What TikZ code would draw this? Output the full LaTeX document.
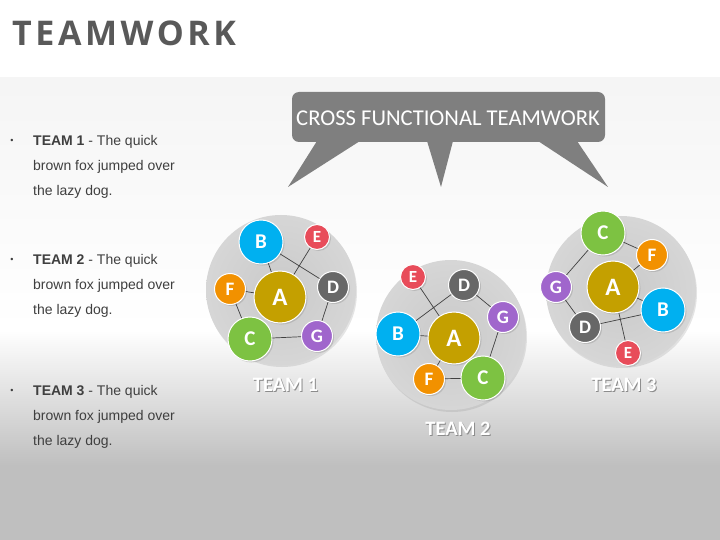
\documentclass[tikz,border=0pt]{standalone}
\usepackage{fontspec}
\setmainfont{Carlito}
\newfontfamily\arialfont{Liberation Sans}
\newfontfamily\titlefont[LetterSpace=10.5]{Open Sans}
\usetikzlibrary{shadows}

\definecolor{colA}{HTML}{C4A000}
\definecolor{colB}{HTML}{00B0F0}
\definecolor{colC}{HTML}{7DC242}
\definecolor{colD}{HTML}{676767}
\definecolor{colE}{HTML}{E84C5A}
\definecolor{colF}{HTML}{F29100}
\definecolor{colG}{HTML}{A066CC}
\definecolor{bubble}{HTML}{7F7F7F}
\definecolor{titlegray}{HTML}{595959}
\definecolor{bodygray}{HTML}{3F3F3F}

\begin{document}
\begin{tikzpicture}[x=1pt,y=-1pt]
  \tikzstyle{member}=[circle,draw=white,line width=1pt,text=white,inner sep=0pt,drop shadow={shadow xshift=1.5pt,shadow yshift=-1.5pt,opacity=0.3}]
  \tikzstyle{big}=[minimum size=52pt,font=\fontsize{25}{25}\selectfont\bfseries]
  \tikzstyle{mid}=[minimum size=44pt,font=\fontsize{21}{21}\selectfont\bfseries]
  \tikzstyle{small}=[minimum size=31pt,font=\fontsize{19}{19}\selectfont\bfseries]
  \tikzstyle{tiny}=[minimum size=25pt,font=\fontsize{17}{17}\selectfont\bfseries]
  \tikzstyle{team}=[circle,minimum size=150pt,inner color=black!21,outer color=black!16,drop shadow={shadow xshift=1pt,shadow yshift=-2pt,opacity=0.2}]
  \tikzstyle{link}=[draw=black!75,line width=0.7pt]
  \tikzstyle{teamlabel}=[font=\fontsize{20.5}{20.5}\selectfont\bfseries,inner sep=0pt]
  \tikzstyle{bullettext}=[anchor=north west,inner sep=0pt,align=left,text=bodygray,font=\arialfont\fontsize{14}{25}\selectfont]

  % background
  \useasboundingbox (0,0) rectangle (720,540);
  \fill[white] (0,0) rectangle (720,78);
  \shade[top color=black!4,bottom color=white] (0,78) rectangle (720,330);
  \shade[top color=white,bottom color=black!25] (0,330) rectangle (720,465);
  \fill[black!25] (0,465) rectangle (720,540);

  % title
  \node[anchor=base west,inner sep=0pt,text=titlegray,font=\titlefont\bfseries\fontsize{34}{34}\selectfont] (title) at (12,45.7) {TEAMWORK};

  % bullets
  \node[text=bodygray,font=\arialfont\fontsize{9}{9}\selectfont] (d1) at (12,141) {\textbullet};
  \node[bullettext] (b1) at (33,135.5) {\textbf{TEAM 1} - The quick\\brown fox jumped over\\the lazy dog.};
  \node[text=bodygray,font=\arialfont\fontsize{9}{9}\selectfont] (d2) at (12,260) {\textbullet};
  \node[bullettext] (b2) at (33,254.5) {\textbf{TEAM 2} - The quick\\brown fox jumped over\\the lazy dog.};
  \node[text=bodygray,font=\arialfont\fontsize{9}{9}\selectfont] (d3) at (12,391) {\textbullet};
  \node[bullettext] (b3) at (33,385.5) {\textbf{TEAM 3} - The quick\\brown fox jumped over\\the lazy dog.};

  % speech bubble
  \fill[bubble,rounded corners=7pt] (292,92) rectangle (605,142);
  \fill[bubble] (317,141) -- (360,141) -- (288,187) -- cycle;
  \fill[bubble] (427,141) -- (453,141) -- (441,187) -- cycle;
  \fill[bubble] (538,141) -- (577,141) -- (608,187) -- cycle;
  \node[text=white,font=\fontsize{22.6}{22.6}\selectfont,inner sep=0pt] (cross) at (448,118) {CROSS FUNCTIONAL TEAMWORK};

  % team 1
  \node[team] (t1) at (281,290) {};
  \node[member,big,fill=colA]   (t1a) at (280,297) {A};
  \node[member,mid,fill=colB]   (t1b) at (261,242) {B};
  \node[member,mid,fill=colC]   (t1c) at (250,339) {C};
  \node[member,small,fill=colD] (t1d) at (333,287) {D};
  \node[member,tiny,fill=colE]  (t1e) at (317,237) {E};
  \node[member,small,fill=colF] (t1f) at (230,289) {F};
  \node[member,small,fill=colG] (t1g) at (317,336) {G};
  \path[link] (t1b) -- (t1a)  (t1b) -- (t1d)  (t1e) -- (t1a)  (t1f) -- (t1a)
              (t1f) -- (t1c)  (t1c) -- (t1g)  (t1g) -- (t1d);
  \node[teamlabel,text=black!45] at (286.5,386) {TEAM 1};
  \node[teamlabel,text=white] (l1) at (285.5,385) {TEAM 1};

  % team 2
  \node[team] (t2) at (451,335) {};
  \node[member,big,fill=colA]   (t2a) at (454,338) {A};
  \node[member,mid,fill=colB]   (t2b) at (398,334) {B};
  \node[member,mid,fill=colC]   (t2c) at (483,378) {C};
  \node[member,small,fill=colD] (t2d) at (464,285) {D};
  \node[member,tiny,fill=colE]  (t2e) at (413,277) {E};
  \node[member,small,fill=colF] (t2f) at (429,379) {F};
  \node[member,small,fill=colG] (t2g) at (503,317) {G};
  \path[link] (t2e) -- (t2a)  (t2b) -- (t2d)  (t2b) -- (t2a)  (t2d) -- (t2g)
              (t2g) -- (t2c)  (t2c) -- (t2f)  (t2f) -- (t2a);
  \node[teamlabel,text=black!45] at (459,429.5) {TEAM 2};
  \node[teamlabel,text=white] (l2) at (458,428.5) {TEAM 2};

  % team 3
  \node[team] (t3) at (621,291) {};
  \node[member,big,fill=colA]   (t3a) at (613,287) {A};
  \node[member,mid,fill=colB]   (t3b) at (663,310) {B};
  \node[member,mid,fill=colC]   (t3c) at (603,233) {C};
  \node[member,small,fill=colD] (t3d) at (585,327) {D};
  \node[member,tiny,fill=colE]  (t3e) at (628,353) {E};
  \node[member,small,fill=colF] (t3f) at (652,255) {F};
  \node[member,small,fill=colG] (t3g) at (556,287) {G};
  \path[link] (t3c) -- (t3f)  (t3c) -- (t3g)  (t3g) -- (t3d)  (t3d) -- (t3b)
              (t3a) -- (t3f)  (t3a) -- (t3b)  (t3a) -- (t3e);
  \node[teamlabel,text=black!45] at (625,386) {TEAM 3};
  \node[teamlabel,text=white] (l3) at (624,385) {TEAM 3};
\end{tikzpicture}
\end{document}
